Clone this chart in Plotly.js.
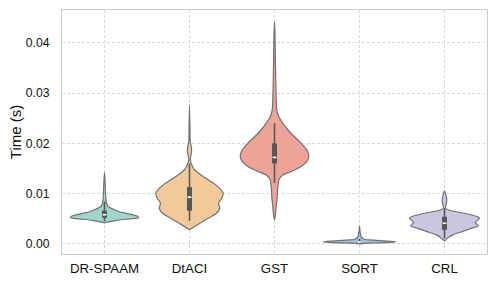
<!DOCTYPE html>
<html>
<head>
<meta charset="utf-8">
<script src="https://cdn.plot.ly/plotly-3.0.1.min.js"></script>
<style>html,body{margin:0;padding:0;background:#fff}#chart{width:498px;height:285px}</style>
</head>
<body>
<div id="chart"></div>
<script>
// Categories
const categories = ["DR-SPAAM", "DtACI", "GST", "SORT", "CRL"];
const fillColors = ["#a0d5cc", "#f2c99b", "#eea398", "#a0c4de", "#cac7e1"];

// Violin density profiles (time level in s, density in arbitrary units)
const drspaamY = [0.0143, 0.0120, 0.0095, 0.0081, 0.0074, 0.0068, 0.0064, 0.0061, 0.0058, 0.0055, 0.0052, 0.0050, 0.0047, 0.0044, 0.0042];
const drspaamD = [0, 0.7, 1.2, 2, 4, 10, 15, 21.7, 28.3, 33, 34, 26, 12, 4, 0];

const dtaciY = [0.0276, 0.0227, 0.0203, 0.0199, 0.0190, 0.0183, 0.0174, 0.0167, 0.0154, 0.0147, 0.0134, 0.0121, 0.0111, 0.0101, 0.0091, 0.0081, 0.0071, 0.0061, 0.0051, 0.0041, 0.0031, 0.0028];
const dtaciD = [0, 0.5, 0.7, 1.2, 2, 2, 1.2, 0.8, 3, 5.3, 13.7, 23.7, 30, 33.7, 32.3, 29, 30.3, 27, 18.7, 10.3, 2, 0];

const gstY = [0.0442, 0.0419, 0.0352, 0.0286, 0.0266, 0.0253, 0.0240, 0.0227, 0.0213, 0.0200, 0.0187, 0.0174, 0.0164, 0.0154, 0.0144, 0.0137, 0.0127, 0.0114, 0.0094, 0.0074, 0.0054, 0.0048];
const gstD = [0, 0.5, 1, 1.7, 2.3, 4.3, 8.3, 13.3, 20, 26.7, 32.3, 34.3, 32.3, 26.7, 16.7, 8.3, 4.3, 3.3, 2.7, 1.7, 0.7, 0];

const sortY = [0.0036, 0.0025, 0.0015, 0.0010, 0.0008, 0.0006, 0.00045, 0.0003, 0.0002, 0.0001, 0.0];
const sortD = [0, 0.5, 1.5, 4, 10, 25, 36, 30, 15, 5, 0];

const crlY = [0.0105, 0.0097, 0.0087, 0.0080, 0.0071, 0.0066, 0.0061, 0.0054, 0.0051, 0.0047, 0.0043, 0.0040, 0.0036, 0.0031, 0.0024, 0.0018, 0.0011, 0.0006];
const crlD = [0, 1.5, 2.3, 1.8, 1, 6.7, 20, 33.3, 35, 33, 30.7, 32, 34, 26.7, 16.7, 8.3, 2.7, 0];

// Inner box statistics: [lower whisker, q1, median, q3, upper whisker]
const drspaamBox = [0.0045, 0.0052, 0.0058, 0.0066, 0.0084];
const dtaciBox   = [0.0046, 0.0066, 0.0093, 0.0113, 0.0160];
const gstBox     = [0.0121, 0.0160, 0.0172, 0.0200, 0.0240];
const sortBox    = [0.0001, 0.0003, 0.0004, 0.0006, 0.0010];
const crlBox     = [0.0011, 0.0028, 0.0041, 0.0054, 0.0071];

const yTickVals = [0, 0.01, 0.02, 0.03, 0.04];
const yTickText = ["0.00", "0.01", "0.02", "0.03", "0.04"];

const profilesY = [drspaamY, dtaciY, gstY, sortY, crlY];
const profilesD = [drspaamD, dtaciD, gstD, sortD, crlD];
const boxes = [drspaamBox, dtaciBox, gstBox, sortBox, crlBox];

const DENS_SCALE = 1 / 85; // density units -> category units
const traces = [];
categories.forEach((c, i) => {
  const ys = profilesY[i], ds = profilesD[i];
  const xs = [], yy = [];
  for (let k = 0; k < ys.length; k++) { xs.push(i + ds[k] * DENS_SCALE); yy.push(ys[k]); }
  for (let k = ys.length - 1; k >= 0; k--) { xs.push(i - ds[k] * DENS_SCALE); yy.push(ys[k]); }
  traces.push({
    type: "scatter", mode: "lines", x: xs, y: yy, fill: "toself",
    fillcolor: fillColors[i], line: {color: "#727272", width: 1.2, shape: "spline", smoothing: 0.6},
    hoverinfo: "skip", showlegend: false
  });
});
categories.forEach((c, i) => {
  const b = boxes[i];
  traces.push({type: "scatter", mode: "lines", x: [i, i], y: [b[0], b[4]],
    line: {color: "#575757", width: 1.6}, hoverinfo: "skip", showlegend: false});
  traces.push({type: "scatter", mode: "lines", x: [i, i], y: [b[1], b[3]],
    line: {color: "#575757", width: 5}, hoverinfo: "skip", showlegend: false});
  traces.push({type: "scatter", mode: "lines", x: [i - 0.022, i + 0.022], y: [b[2], b[2]],
    line: {color: "#ffffff", width: 1.6}, hoverinfo: "skip", showlegend: false});
});

const family = "Liberation Sans, Arial, Helvetica, sans-serif";
const xfont = {family: family, color: "#111", size: 13.3};
const yfont = {family: family, color: "#111", size: 12.2};
const layout = {
  width: 498, height: 285,
  margin: {l: 62, r: 11, t: 10, b: 31},
  paper_bgcolor: "#fff", plot_bgcolor: "#fff",
  font: xfont,
  showlegend: false,
  xaxis: {
    range: [-0.5, 4.5], tickvals: categories.map((c, i) => i), ticktext: categories,
    showgrid: true, gridcolor: "#cfcfcf", gridwidth: 0.8, griddash: "3px,2px",
    zeroline: false, showline: true, mirror: true, linecolor: "#cccccc", linewidth: 1,
    ticks: "", ticklabelstandoff: 2, tickfont: xfont
  },
  yaxis: {
    range: [-0.002, 0.0465], tickvals: yTickVals, ticktext: yTickText,
    showgrid: true, gridcolor: "#cfcfcf", gridwidth: 0.8, griddash: "3px,2px",
    zeroline: false, showline: true, mirror: true, linecolor: "#cccccc", linewidth: 1,
    ticks: "", ticklabelstandoff: 9, tickfont: yfont,
    title: {text: "Time (s)", font: {family: family, size: 15, color: "#111"}, standoff: 0}
  }
};
Plotly.newPlot("chart", traces, layout, {staticPlot: true, displayModeBar: false});
</script>
</body>
</html>
